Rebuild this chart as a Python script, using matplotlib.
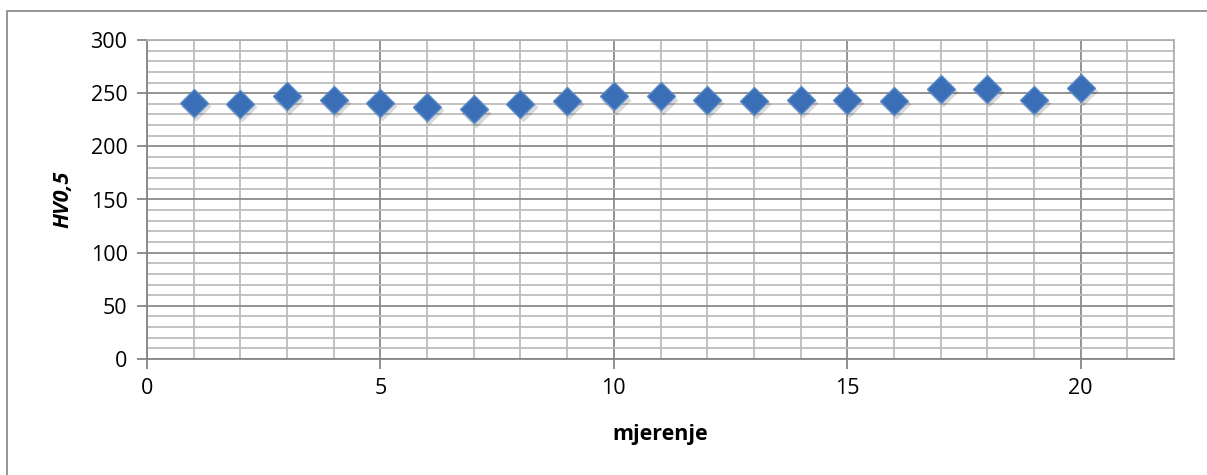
import numpy as np
import matplotlib.pyplot as plt
import matplotlib.transforms as mtransforms
from matplotlib.patches import Rectangle

# --- data ---
mjerenje = np.arange(1, 21)
hv = [241, 240, 247, 244, 241, 237, 235, 240, 243, 247,
      247, 244, 243, 244, 244, 243, 254, 254, 244, 255]

x_ticks = [0, 5, 10, 15, 20]
y_ticks = [0, 50, 100, 150, 200, 250, 300]

plt.rcParams['font.family'] = ['Open Sans', 'DejaVu Sans']

fig = plt.figure(figsize=(12.07, 4.75), dpi=100)
ax = fig.add_axes([147 / 1207, 1 - 359 / 475, (1174 - 147) / 1207, (359 - 40) / 475])

# outer chart border
fig.patches.append(Rectangle((7 / 1207, -0.2), 1.2, 1.2 - 11 / 475, transform=fig.transFigure,
                             fill=False, edgecolor='#8c8c8c', linewidth=1.3))

ax.set_xlim(0, 22)
ax.set_ylim(0, 300)
ax.set_xticks(x_ticks)
ax.set_yticks(y_ticks)
ax.set_xticks(np.arange(0, 23, 1), minor=True)
ax.set_yticks(np.arange(0, 301, 10), minor=True)

ax.grid(which='minor', color='#bdbdbd', linewidth=1.3)
ax.grid(which='major', color='#8a8a8a', linewidth=1.3)
ax.set_axisbelow(True)

for s in ['left', 'bottom']:
    ax.spines[s].set_color('#868686')
    ax.spines[s].set_linewidth(1.3)
for s in ['top', 'right']:
    ax.spines[s].set_color('#b0b0b0')
    ax.spines[s].set_linewidth(1.3)

ax.tick_params(which='major', direction='out', length=7, width=1.3, color='#868686',
               labelsize=15.5, pad=7)
ax.tick_params(which='minor', length=0)

# soft drop shadow under the markers
shadow = mtransforms.offset_copy(ax.transData, fig=fig, x=1.5, y=-2.5, units='points')
ax.plot(mjerenje, hv, linestyle='none', marker='D', markersize=15,
        markerfacecolor='#000000', markeredgecolor='none', alpha=0.15,
        transform=shadow, zorder=2.5)
ax.plot(mjerenje, hv, linestyle='none', marker='D', markersize=14,
        markerfacecolor='#3a6fb7', markeredgecolor='#5a8bc9', markeredgewidth=1,
        zorder=3)

ax.set_xlabel('mjerenje', fontsize=15.5, fontweight='bold', labelpad=18)
ax.set_ylabel('HV0,5', fontsize=15.5, fontweight='bold', fontstyle='italic', labelpad=12)

fig.savefig('out.png', dpi=100)
